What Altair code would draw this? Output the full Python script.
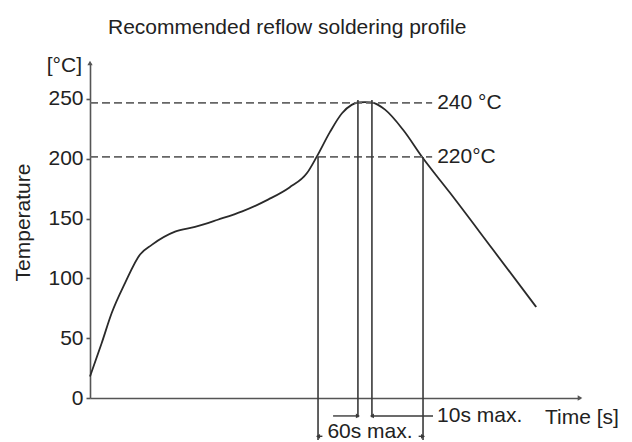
import altair as alt
import pandas as pd

FONT = "Liberation Sans"
TXT = "#222222"
AX = "#555555"

# Reflow profile (time in s, temperature on the axis scale)
profile_time = [0, 6.7, 12.4, 20, 28.6, 35.3, 48.6, 60, 73, 87, 102, 114, 124, 129.5,
                137, 144, 149.5, 153, 157, 161, 168.6, 179, 190, 205.7, 230, 255]
profile_temp = [18, 46, 71, 96, 120, 128, 139, 143, 149, 156, 166, 176, 188, 201.5,
                222, 238, 245, 247, 247.3, 247, 241, 224, 201, 171.5, 124.5, 76]

# Dashed reference levels
level_temp = [246.7, 201.5]
level_label = ["240 °C", "220°C"]
level_end = [195.5, 195.5]

# Vertical marker lines
marker_time = [130.3, 153.1, 161.1, 190.3]
marker_top = [201.5, 249, 249, 201.5]
marker_bottom = [-35, -16, -16, -35]

# Dimension arrows (start, end, level)
arrow_start = [138.9, 196.0, 132.8, 187.8]
arrow_end = [153.1, 161.1, 130.3, 190.3]
arrow_level = [-15, -15, -32, -32]
arrow_shape = ["triangle-right", "triangle-left", "triangle-left", "triangle-right"]
arrow_shift = [-2.5, 2.5, 2.5, -2.5]

# Annotation texts
note_text = ["10s max.", "Time [s]"]
note_time = [198.3, 260]
note_temp = [-15, -16.7]

x_scale = alt.Scale(domain=[0, 280], nice=False, zero=False)
y_scale = alt.Scale(domain=[0, 280], nice=False, zero=False)

prof = pd.DataFrame({"t": profile_time, "T": profile_temp})
levels = pd.DataFrame({"T": level_temp, "label": level_label, "t0": [0, 0], "t1": level_end})
markers = pd.DataFrame({"t": marker_time, "top": marker_top, "bot": marker_bottom})
arrows = pd.DataFrame({"s": arrow_start, "e": arrow_end, "lv": arrow_level,
                       "shape": arrow_shape, "shift": arrow_shift})
notes = pd.DataFrame({"txt": note_text, "t": note_time, "T": note_temp})

base_x = alt.X("t:Q", scale=x_scale,
               axis=alt.Axis(ticks=False, labels=False, title=None, grid=False,
                             domainColor=AX, domainWidth=1.6))
base_y = alt.Y("T:Q", scale=y_scale,
               axis=alt.Axis(values=[0, 50, 100, 150, 200, 250], title="Temperature",
                             grid=False, tickSize=4, tickColor=AX, tickWidth=1.6,
                             domainColor=AX, domainWidth=1.6,
                             labelFont=FONT, labelFontSize=21, labelColor=TXT, labelPadding=3,
                             titleFont=FONT, titleFontSize=21, titleFontWeight="normal",
                             titleColor=TXT, titleX=-67, titleY=159, titleBaseline="middle"))

curve = alt.Chart(prof).mark_line(color="#2a2a2a", strokeWidth=1.8, interpolate="monotone").encode(
    x=base_x, y=base_y)

dash = alt.Chart(levels).mark_rule(color="#666666", strokeWidth=1.6, strokeDash=[8, 4]).encode(
    x="t0:Q", x2="t1:Q", y="T:Q")

level_txt = alt.Chart(levels).mark_text(font=FONT, fontSize=21, color=TXT, align="left",
                                        baseline="middle", dx=5).encode(
    x="t1:Q", y="T:Q", text="label:N")

vlines = alt.Chart(markers).mark_rule(color="#3a3a3a", strokeWidth=1.6).encode(
    x="t:Q", y="top:Q", y2="bot:Q")

arr_lines = alt.Chart(arrows).mark_rule(color="#3a3a3a", strokeWidth=1.4).encode(
    x="s:Q", x2="e:Q", y="lv:Q")

arr_heads = alt.Chart(arrows).mark_point(filled=True, color="#3a3a3a", size=22, opacity=1).encode(
    x="e:Q", y="lv:Q", shape=alt.Shape("shape:N", scale=None), xOffset=alt.XOffset("shift:Q", scale=None))

note_marks = alt.Chart(notes).mark_text(font=FONT, fontSize=21, color=TXT, align="left",
                                        baseline="middle").encode(
    x="t:Q", y="T:Q", text="txt:N")

sixty = alt.Chart(pd.DataFrame({"t": [160], "T": [-33.5], "txt": ["60s max."]})).mark_text(
    font=FONT, fontSize=21, color=TXT, align="center", baseline="alphabetic").encode(
    x="t:Q", y="T:Q", text="txt:N")

unit = alt.Chart(pd.DataFrame({"t": [0], "T": [280], "txt": ["[°C]"]})).mark_text(
    font=FONT, fontSize=21, color=TXT, align="right", baseline="middle", dx=-8, dy=3).encode(
    x="t:Q", y="T:Q", text="txt:N")

ax_heads = alt.Chart(pd.DataFrame({"t": [0, 280], "T": [280, 0],
                                   "shape": ["triangle-up", "triangle-right"],
                                   "dx": [0, 1], "dy": [-1, 0]})).mark_point(
    filled=True, color=AX, size=28, opacity=1).encode(
    x="t:Q", y="T:Q", shape=alt.Shape("shape:N", scale=None),
    xOffset=alt.XOffset("dx:Q", scale=None), yOffset=alt.YOffset("dy:Q", scale=None))

chart = alt.layer(curve, dash, level_txt, vlines, arr_lines, arr_heads, note_marks, sixty,
                  unit, ax_heads).properties(
    width=490, height=335,
    background="white",
    title=alt.TitleParams("Recommended reflow soldering profile", font=FONT, fontSize=21,
                          fontWeight="normal", color=TXT, anchor="start", frame="group",
                          dx=18, offset=17),
    autosize=alt.AutoSizeParams(type="none"),
    padding={"left": 82, "top": 55, "right": 44, "bottom": 44},
).configure_view(stroke=None)

chart.save("out.html", embed_options={"renderer": "svg", "actions": False})
